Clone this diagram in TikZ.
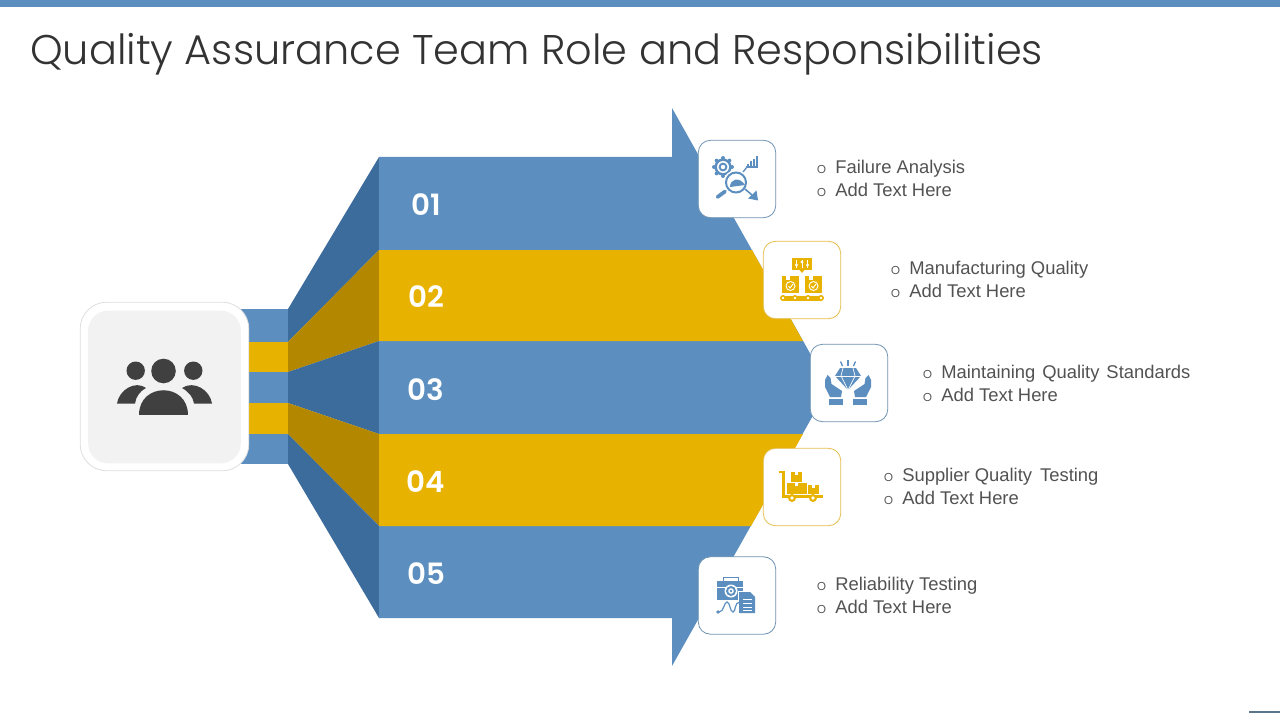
\documentclass[tikz,border=0pt]{standalone}
\usepackage{fontspec}
\setmainfont{Liberation Sans}
\newfontfamily\titlefont{Poppins Light}
\newfontfamily\numfont{Poppins SemiBold}
\definecolor{bandblue}{HTML}{5C8FBF}
\definecolor{bandyellow}{HTML}{E8B200}
\definecolor{darkblue}{HTML}{3C6C9C}
\definecolor{darkyellow}{HTML}{B38800}
\definecolor{cardblue}{HTML}{6F93B3}
\definecolor{cardyellow}{HTML}{E5BE4C}
\tikzset{
    iconcard/.style={draw=#1, fill=white, line width=0.6pt, rounded corners=9pt, minimum size=58pt, inner sep=0pt},
    bandnum/.style={anchor=base, text=white, font=\numfont\fontsize{22}{24}\selectfont},
    itemtext/.style={anchor=base west, inner sep=0pt, text=black!68, font=\fontsize{13.8}{16}\selectfont},
    itemdot/.style={anchor=base west, inner sep=0pt, text=black!68, font=\titlefont\fontsize{11}{16}\selectfont}
}
\begin{document}
\begin{tikzpicture}[x=0.75pt,y=-0.75pt]
\useasboundingbox (0, 0) rectangle (1280, 720);

\fill[bandblue] (0, 0) rectangle (1280, 7);
\node[anchor=base west, inner sep=0pt, text=black!80, font=\titlefont\fontsize{31.1}{36}\selectfont] (title) at (30, 65) {Quality Assurance Team Role and Responsibilities};

\foreach \ya/\yb/\col in {309/342/bandblue, 342/372/bandyellow, 372/403/bandblue, 403/434/bandyellow, 434/464/bandblue}
{
    \fill[\col] (230, \ya) rectangle (288, \yb);
}

\fill[darkblue] (288, 309) -- (379, 157) -- (379, 250) -- (288, 342) -- cycle;
\fill[darkyellow] (288, 342) -- (379, 250) -- (379, 341) -- (288, 372) -- cycle;
\fill[darkblue] (288, 372) -- (379, 341) -- (379, 434) -- (288, 403) -- cycle;
\fill[darkyellow] (288, 403) -- (379, 434) -- (379, 526) -- (288, 434) -- cycle;
\fill[darkblue] (288, 434) -- (379, 526) -- (379, 618) -- (288, 464) -- cycle;

\fill[bandblue] (379, 157) -- (672, 157) -- (672, 108) -- (829, 387) -- (672, 666) -- (672, 618) -- (379, 618) -- cycle;
\fill[bandyellow] (379, 250) -- (752, 250) -- (803, 341) -- (379, 341) -- cycle;
\fill[bandyellow] (379, 434) -- (803, 434) -- (751, 526) -- (379, 526) -- cycle;

\foreach \y/\n in {215.5/01, 307.5/02, 400.5/03, 492.5/04, 584.5/05}
{
    \node[bandnum] (num\n) at (426, \y) {\n};
}

\node[draw=black!13, fill=white, line width=0.6pt, rounded corners=20pt, minimum size=126.5pt, inner sep=0pt] (hubouter) at (164.5, 386.5) {};
\node[fill=black!5, rounded corners=15pt, minimum size=114.5pt, inner sep=0pt] (hubinner) at (164.5, 387) {};

\fill[black!75] (163.5, 371) circle (12.3);
\fill[black!75] (135.7, 370.7) circle (9.2);
\fill[black!75] (193.3, 370.7) circle (9.2);
\fill[black!75] (139, 415) .. controls (139, 382) and (188, 382) .. (188, 415) -- cycle;
\fill[black!75] (117, 403.5) .. controls (119, 390) and (135, 380) .. (146, 388) .. controls (139, 392) and (136, 397) .. (135, 403.5) -- cycle;
\fill[black!75] (212, 403.5) .. controls (210, 390) and (194, 380) .. (182, 388) .. controls (189, 392) and (193, 397) .. (194, 403.5) -- cycle;

\node[iconcard=cardblue] (card1) at (737, 179) {};
\node[iconcard=cardyellow] (card2) at (802, 280) {};
\node[iconcard=cardblue] (card3) at (849, 383) {};
\node[iconcard=cardyellow] (card4) at (802, 487) {};
\node[iconcard=cardblue] (card5) at (737, 595.5) {};

% failure analysis
\foreach \a in {0,45,...,315}
{
    \fill[bandblue] (723, 167) ++(\a:9) circle (2);
}
\fill[bandblue] (723, 167) circle (8.6);
\fill[white] (723, 167) circle (6);
\fill[bandblue] (723, 167) circle (4.4);
\fill[white] (723, 167) circle (2.2);
\fill[white] (736, 182.5) circle (12.5);
\draw[bandblue, line width=1.5pt] (736, 182.5) circle (10);
\fill[bandblue] (730, 187) .. controls (730, 179) and (739, 176) .. (745, 185) -- cycle;
\draw[bandblue, line width=2.8pt, line cap=round] (717.5, 197) -- (725, 191.5);
\draw[bandblue, line width=1pt] (743, 172) -- (747, 167);
\draw[bandblue, line width=0.8pt] (746, 167) -- (758, 167);
\foreach \x/\h in {748/3, 751/6, 754/8, 757/11}
{
    \draw[bandblue, line width=1.3pt] (\x, 167) -- (\x, 167-\h);
}
\draw[bandblue, line width=1.2pt] (745, 189) -- (752, 195);
\fill[bandblue] (748, 198.5) -- (758, 200.5) -- (756.5, 190.5) -- cycle;

% manufacturing quality
\fill[bandyellow] (792, 258) rectangle (812, 270);
\fill[bandyellow] (799.5, 270) -- (804.5, 270) -- (802, 273) -- cycle;
\foreach \x/\y in {796.5/265, 802/262, 807.5/265}
{
    \draw[white, line width=0.6pt] (\x, 260) -- (\x, 268);
    \fill[white] (\x, \y) circle (1.6);
}
\foreach \x in {782, 805}
{
    \fill[bandyellow] (\x, 276) rectangle (\x+17, 293);
    \fill[white] (\x+4, 276) rectangle (\x+8, 279.5);
    \draw[white, line width=0.7pt] (\x+8.5, 286) circle (4.5);
    \draw[white, line width=0.7pt] (\x+6.5, 286) -- (\x+8, 288) -- (\x+11, 284);
}
\fill[bandyellow] (782, 295.5) rectangle (822, 300.5);
\foreach \x in {783, 795, 808, 821}
{
    \fill[bandyellow] (\x, 298) circle (3);
    \fill[white] (\x, 298) circle (1.4);
}

% maintaining quality standards
\fill[bandblue] (840, 368) -- (856, 368) -- (861, 376) -- (848, 390) -- (835, 376) -- cycle;
\draw[white, line width=0.5pt] (835, 376) -- (861, 376);
\draw[white, line width=0.5pt] (843, 368) -- (841, 376) -- (848, 390) -- (855, 376) -- (853, 368);
\draw[bandblue, line width=1pt] (848, 360) -- (848, 365.5);
\draw[bandblue, line width=1pt] (840.5, 361.5) -- (842.5, 366);
\draw[bandblue, line width=1pt] (855.5, 361.5) -- (853.5, 366);
\fill[bandblue] (825, 380) -- (827.5, 375) -- (830.5, 378) -- (831.5, 384) -- (842, 391) -- (841, 397) -- (830, 397) -- (825, 387) -- cycle;
\fill[bandblue] (871, 380) -- (868.5, 375) -- (865.5, 378) -- (864.5, 384) -- (854, 391) -- (855, 397) -- (866, 397) -- (871, 387) -- cycle;
\fill[bandblue] (829, 399) rectangle (843, 405);
\fill[bandblue] (853, 399) rectangle (867, 405);

% supplier quality testing
\fill[bandyellow] (779, 470.5) rectangle (782, 472.5);
\fill[bandyellow] (782, 471) rectangle (784.5, 498);
\fill[bandyellow] (784, 494.5) rectangle (823, 497.5);
\fill[bandyellow] (787, 483) rectangle (807, 494);
\fill[bandyellow] (791, 472) rectangle (802, 482);
\fill[bandyellow] (808, 485) rectangle (819, 494);
\fill[white] (795, 472) rectangle (798, 475);
\fill[white] (795, 483) rectangle (798, 485.5);
\fill[white] (812, 485) rectangle (815, 487.5);
\foreach \x in {792, 813}
{
    \fill[bandyellow] (\x, 498) circle (4);
    \fill[white] (\x, 498) circle (1.8);
}

% reliability testing
\draw[bandblue, line width=1.2pt] (723.5, 581) -- (723.5, 577.5) -- (738.5, 577.5) -- (738.5, 581);
\fill[bandblue] (717, 581) rectangle (743, 600);
\draw[white, line width=0.5pt] (717, 587) -- (743, 587);
\fill[white] (731, 591) circle (6.5);
\fill[bandblue] (731, 591) circle (5);
\fill[white] (731, 591) circle (2.8);
\fill[bandblue] (731, 591) circle (1.4);
\fill[white] (738, 591) rectangle (756, 614);
\fill[bandblue] (739, 592) -- (750, 592) -- (755, 597) -- (755, 613) -- (739, 613) -- cycle;
\foreach \y in {599, 603, 607, 610}
{
    \draw[white, line width=0.6pt] (743, \y) -- (752, \y);
}
\draw[bandblue, line width=0.9pt] (719, 612) .. controls (724, 612) and (724, 602) .. (727, 602) .. controls (730, 602) and (730, 612) .. (733, 612) .. controls (736, 612) and (734, 602) .. (740, 602);
\fill[bandblue] (718, 612) circle (1.8);

\foreach \x/\y/\n/\first in {835/174/1/Failure Analysis, 909/274/2/Manufacturing Quality, 941/378/3/Maintaining\hspace{5.2pt}Quality\hspace{5.2pt}Standards, 902/481/4/Supplier Quality\hspace{6pt}Testing, 835/590/5/Reliability Testing}
{
    \node[itemdot] (dot\n a) at (\x-18.5, \y) {o};
    \node[itemtext] (item\n a) at (\x, \y) {\first};
    \node[itemdot] (dot\n b) at (\x-18.5, \y+23) {o};
    \node[itemtext] (item\n b) at (\x, \y+23) {Add Text Here};
}

\fill[cardblue!80!black] (1249, 711) rectangle (1280, 713);

\end{tikzpicture}
\end{document}
